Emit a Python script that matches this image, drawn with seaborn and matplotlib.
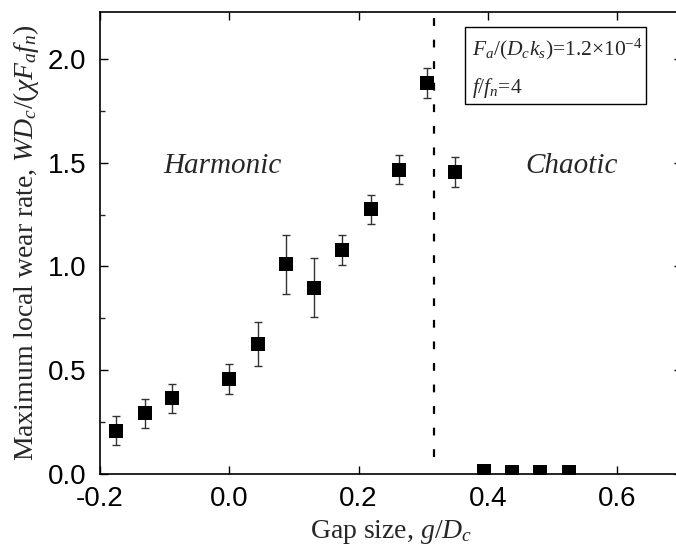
import seaborn as sns
import matplotlib.pyplot as plt
from matplotlib.patches import Rectangle
import numpy as np

# Datos
gap = [-0.175, -0.131, -0.088, 0.0, 0.044, 0.088, 0.131, 0.175, 0.219, 0.263, 0.306, 0.349,
       0.394, 0.438, 0.481, 0.525]
wear = [0.207, 0.291, 0.363, 0.455, 0.624, 1.011, 0.898, 1.080, 1.276, 1.466, 1.885, 1.455,
        0.010, 0.005, 0.005, 0.005]
wear_err = [0.070, 0.071, 0.071, 0.072, 0.107, 0.143, 0.142, 0.071, 0.071, 0.070, 0.073, 0.072,
            0.0, 0.0, 0.0, 0.0]
regime_boundary = 0.317

x_ticks = [-0.2, 0.0, 0.2, 0.4, 0.6]
y_ticks = [0.0, 0.5, 1.0, 1.5, 2.0]

sns.set_theme(style="ticks")
plt.rcParams['font.family'] = ['Liberation Sans', 'DejaVu Sans']
plt.rcParams['mathtext.fontset'] = 'custom'
plt.rcParams['mathtext.rm'] = 'Liberation Serif'
plt.rcParams['mathtext.it'] = 'Liberation Serif:italic'
plt.rcParams['axes.unicode_minus'] = False

fig = plt.figure(figsize=(6.76, 5.52), dpi=100)
ax = fig.add_axes([100 / 676, 78.5 / 552, 581.8 / 676, 461.8 / 552])

# barras de error y marcadores
ax.errorbar(gap, wear, yerr=wear_err, fmt='none', ecolor='#333333', elinewidth=1.0,
            capsize=3.0, capthick=1.0, zorder=2)
sns.scatterplot(x=gap, y=wear, marker='s', s=115, color='black', linewidth=0, ax=ax, zorder=3)

ax.axvline(regime_boundary, ymin=0.035, ymax=1.0, color='black', lw=1.6,
           dashes=(3.5, 6.2), zorder=1)

ax.set_xlim(-0.2, 0.7)
ax.set_ylim(0, 2.23)
ax.set_xticks(x_ticks)
ax.set_yticks(y_ticks)
ax.set_yticks(np.arange(0.25, 2.25, 0.5), minor=True)
ax.set_xticklabels([f"{v:.1f}" for v in x_ticks])
ax.set_yticklabels([f"{v:.1f}" for v in y_ticks])
ax.tick_params(axis='both', which='major', direction='in', length=6, width=1.0,
               labelsize=20, top=True, right=True, colors='black')
ax.tick_params(axis='x', pad=9)
ax.tick_params(axis='y', pad=10)
ax.tick_params(axis='y', which='minor', direction='in', length=3.5, width=1.0, right=True)
for sp in ax.spines.values():
    sp.set_linewidth(1.2)
    sp.set_color('black')

serif = ['Liberation Serif', 'DejaVu Serif']
ax.set_xlabel(r"Gap size, $g/D_c$", fontsize=20, family=serif, labelpad=4)
ax.set_ylabel(r"Maximum local wear rate, $WD_c/(\chi F_a f_n)$", fontsize=20,
              family=serif, labelpad=5)

ax.text(-0.1026, 1.45, "Harmonic", fontsize=21, family=serif, style='italic',
        va='baseline', ha='left')
ax.text(0.458, 1.45, "Chaotic", fontsize=21, family=serif, style='italic',
        va='baseline', ha='left')

# cuadro de parametros
ax.add_patch(Rectangle((0.6274, 0.8001), 0.3111, 0.1661, transform=ax.transAxes,
                       facecolor='white', edgecolor='black', lw=1.0, zorder=4))
ax.text(0.639, 0.906, "$F_a/(D_c k_s)$=1.2×10$^{-4}$", transform=ax.transAxes,
        fontsize=15.5, family=serif, va='baseline', ha='left', zorder=5)
ax.text(0.639, 0.824, "$f/f_n$=4", transform=ax.transAxes,
        fontsize=15.5, family=serif, va='baseline', ha='left', zorder=5)

fig.savefig("out.png", dpi=100)
